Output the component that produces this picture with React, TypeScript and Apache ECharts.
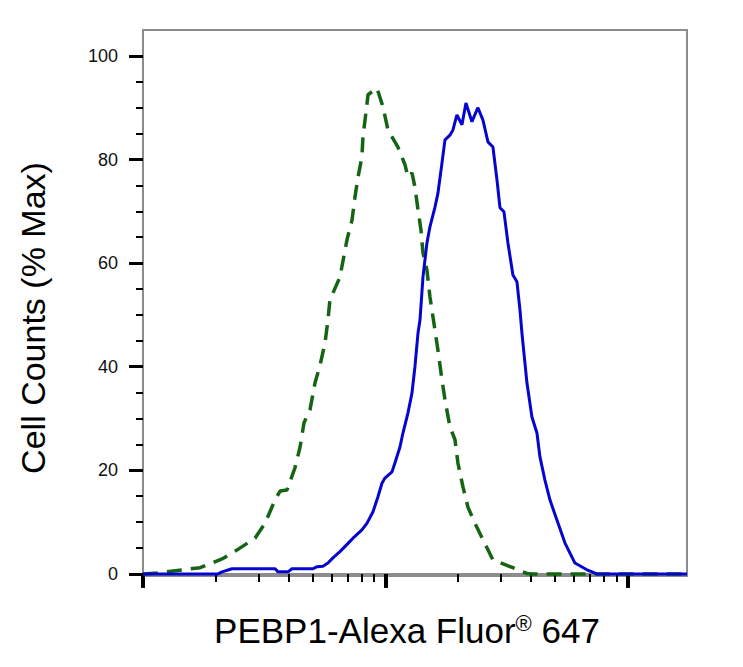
// Histograma de citometria de fluxo (PEBP1-Alexa Fluor 647): controle isotipico tracejado
// em verde e amostra marcada em azul, eixo X em escala log (decadas sem rotulo).
import { useEffect, useRef } from 'react'
import * as echarts from 'echarts'

// controle isotipico (linha tracejada verde)
const controleX = [10, 11.5, 14.6, 17.2, 21.2, 24.4, 29.0, 31.9, 35.1, 36.8, 39.3, 42.4, 44.5, 46.2, 48.9, 51.3,
  53.8, 56.4, 58.0, 59.1, 60.8, 65.0, 69.5, 72.9, 75.0, 77.2, 80.1, 80.9, 83.2, 84.9, 92.4, 97.8, 102.6,
  112.8, 120.6, 124.1, 128.9, 132.6, 136.5, 140.4, 143.1, 148.6, 152.9, 157.4, 165.0, 171.4, 176.4, 184.9,
  194.0, 199.5, 209.3, 219.4, 234.5, 253.1, 278.3, 336.5, 384.4, 407.0, 595.3, 1760]
const controleY = [0, 0.2, 0.8, 1.2, 2.9, 4.6, 6.9, 9.8, 14.3, 16.0, 16.2, 20.5, 24.5, 29.2, 31.7, 36.9,
  40.3, 44.6, 49.0, 52.9, 54.2, 57.3, 64.5, 68.3, 72.8, 76.6, 80.5, 84.4, 89.0, 92.5, 93.8, 90.2, 85.7,
  82.4, 79.0, 76.6, 77.4, 74.7, 70.3, 66.4, 62.0, 58.7, 53.5, 49.6, 43.2, 37.5, 33.6, 28.4,
  25.9, 21.4, 16.8, 12.9, 9.8, 6.6, 2.7, 1.2, 0.1, 0, 0, 0]

// PEBP1 (linha continua azul)
const pebp1X = [10, 12.3, 20.4, 21.2, 23.3, 35.1, 36.1, 39.7, 41.2, 50.3, 52.3, 55.3, 58.0, 60.8, 65.0,
  70.2, 73.6, 80.1, 84.1, 89.0, 93.3, 96.9, 99.7, 106.6, 109.6, 115.0, 118.3, 124.1, 128.9, 132.6, 136.5,
  139.1, 143.1, 148.6, 152.9, 160.4, 165.0, 171.4, 176.4, 184.9, 190.3, 197.6, 207.3, 215.3, 227.9, 241.3,
  253.1, 265.4, 278.3, 289.1, 297.5, 309.0, 320.9, 336.5, 349.6, 359.7, 366.6, 384.4, 403.1, 422.8, 435.0,
  456.1, 478.3, 511.2, 551.5, 606.6, 679.9, 747.7, 822.3, 1760]
const pebp1Y = [0, 0, 0, 0.4, 1.0, 1.0, 0.4, 0.4, 1.0, 1.0, 1.4, 1.5, 2.1, 3.1, 4.3,
  5.9, 6.9, 8.5, 9.8, 12.0, 14.9, 17.5, 18.5, 19.7, 21.4, 24.5, 27.2, 31.1, 34.9, 40.0, 46.5,
  49.0, 57.3, 63.9, 67.0, 70.8, 73.5, 79.3, 83.8, 84.7, 85.7, 88.6, 86.7, 90.9, 87.3, 90.0,
  87.6, 83.4, 82.4, 76.1, 70.7, 69.9, 63.9, 57.7, 56.4, 51.0, 46.5, 36.9, 30.3, 27.2, 22.6,
  18.1, 14.3, 10.4, 6.0, 2.1, 0.8, 0, 0, 0]

const yTicksMaiores = [0, 20, 40, 60, 80, 100]
const yTicksMenores = [5, 10, 15, 25, 30, 35, 45, 50, 55, 65, 70, 75, 85, 90, 95]
const xTicksMaiores = [10, 100, 1000]
const xTicksMenores = [20, 30, 40, 50, 60, 70, 80, 90, 200, 300, 400, 500, 600, 700, 800, 900]

const fonte = '"Liberation Sans", Arial, sans-serif'
const cinzaEixo = '#8c8c8c'

export default function App() {
  const containerRef = useRef<HTMLDivElement>(null)

  useEffect(() => {
    if (!containerRef.current) return
    const instancia = echarts.init(containerRef.current, undefined, { renderer: 'svg' })

    // dois eixos sobrepostos por direcao: um so com os ticks maiores (decadas / dezenas)
    // e outro com os menores, ja que o ECharts nao varia o comprimento do tick por valor
    const eixoX = (ticks: number[], comprimento: number, largura: number, linha: boolean) => ({
      type: 'log',
      logBase: 10,
      min: 10,
      max: 1760,
      position: 'bottom',
      axisLine: { show: linha, lineStyle: { color: cinzaEixo, width: 2 } },
      axisTick: { show: true, customValues: ticks, length: comprimento, lineStyle: { color: '#000', width: largura } },
      axisLabel: { show: false },
      splitLine: { show: false },
      minorTick: { show: false },
    })

    const eixoY = (ticks: number[], comprimento: number, largura: number, principal: boolean) => ({
      type: 'value',
      min: -0.4,
      max: 105,
      position: 'left',
      axisLine: { show: principal, lineStyle: { color: cinzaEixo, width: 2 } },
      axisTick: { show: true, customValues: ticks, length: comprimento, lineStyle: { color: '#000', width: largura } },
      axisLabel: principal
        ? { show: true, customValues: yTicksMaiores, margin: 25, color: '#111', fontSize: 18, fontFamily: fonte }
        : { show: false },
      splitLine: { show: false },
    })

    instancia.setOption({
      animation: false,
      backgroundColor: '#fff',
      grid: { left: 143, right: 56, top: 30, bottom: 91, show: true, borderColor: cinzaEixo, borderWidth: 2 },
      xAxis: [eixoX(xTicksMaiores, 14, 4, true), eixoX(xTicksMenores, 8, 2, false)],
      yAxis: [eixoY(yTicksMaiores, 14, 3, true), eixoY(yTicksMenores, 7, 2, false)],
      graphic: [
        {
          type: 'text',
          x: 407,
          y: 630,
          style: {
            text: 'PEBP1-Alexa Fluor{sup|®} 647',
            fill: '#000',
            font: `35px ${fonte}`,
            align: 'center',
            verticalAlign: 'middle',
            rich: { sup: { fontSize: 22, fontFamily: fonte, verticalAlign: 'top', fill: '#000' } },
          },
        },
        {
          type: 'text',
          x: 33,
          y: 318,
          rotation: Math.PI / 2,
          style: {
            text: 'Cell Counts (% Max)',
            fill: '#000',
            font: `34px ${fonte}`,
            align: 'center',
            verticalAlign: 'middle',
          },
        },
      ],
      series: [
        {
          name: 'controle',
          type: 'line',
          xAxisIndex: 0,
          yAxisIndex: 0,
          data: controleX.map((x, i) => [x, controleY[i]]),
          symbol: 'none',
          lineStyle: { color: '#146414', width: 3.5, type: [15, 9] },
          z: 2,
        },
        {
          name: 'PEBP1',
          type: 'line',
          xAxisIndex: 0,
          yAxisIndex: 0,
          data: pebp1X.map((x, i) => [x, pebp1Y[i]]),
          symbol: 'none',
          lineStyle: { color: '#0505d0', width: 3 },
          z: 3,
        },
      ],
    })

    return () => instancia.dispose()
  }, [])

  return (
    <div
      ref={containerRef}
      style={{ position: 'absolute', left: 0, top: 0, width: 743, height: 667, background: '#fff' }}
    />
  )
}
